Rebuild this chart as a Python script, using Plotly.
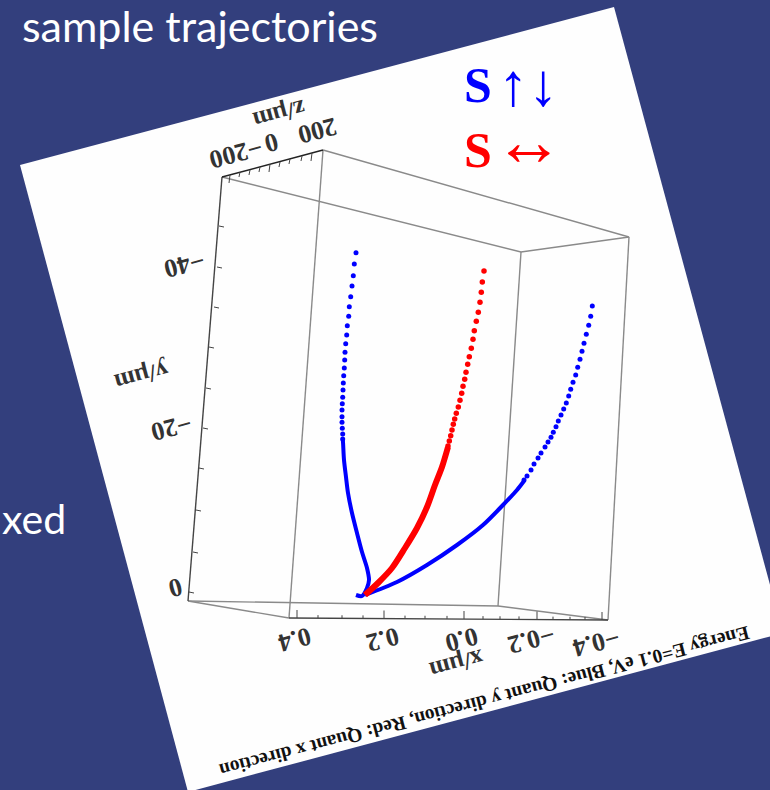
import plotly.graph_objects as go

NAVY = "#333F7D"
SERIF = "Liberation Serif"
SANS = "Lato"

# page (white rotated sheet) corners
page_x = [20, 614, 783, 188, 20]
page_y = [165, 7, 633, 792, 165]

# 3D box edges, each as (xs, ys)
grey_edges = [
    ([323, 629, 521, 222], [150, 237, 252, 177]),
    ([323, 289], [150, 618]),
    ([521, 498], [252, 606]),
    ([629, 608], [237, 620]),
    ([188, 289], [601, 618]),
    ([188, 498, 608], [601, 606, 620]),
]
dark_edges = [
    ([222, 188], [177, 601]),
    ([289, 608], [618, 620]),
]
z_axis_x, z_axis_y = [222, 323], [177, 150]

# ticks: position on picture
z_tick_x = [230, 240, 250, 260, 270, 280, 290, 302, 312]
z_tick_y = [175, 172, 170, 167, 164, 162, 159, 156, 153]
z_tick_len = [8, 5, 5, 5, 8, 5, 5, 5, 8]
y_tick_x = [219, 217, 214, 209, 206, 203, 199, 196, 193, 189]
y_tick_y = [226, 267, 307, 347, 388, 428, 468, 510, 552, 592]
x_tick_x = [297, 318, 342, 363, 384, 405, 425, 447, 464, 483, 500, 519, 537, 553, 570, 585, 602]
x_tick_len = [8, 3, 3, 3, 8, 3, 3, 3, 8, 3, 3, 3, 8, 3, 3, 3, 8]

# trajectories
blue1_dots_x = [356, 354.3, 353.3, 352, 350.7, 349.3, 348.7, 347.3, 346.7, 345.7, 345, 344.7, 344.3, 343.7, 343.3, 343, 342.7, 342.3, 342, 342, 342, 342.3, 342.7, 342.7]
blue1_dots_y = [252.7, 264, 275.7, 286, 296.7, 306.7, 316.3, 325.7, 335, 343.7, 352.3, 360, 368, 375.7, 383, 390, 397.3, 403.7, 410, 416.7, 422.3, 428.3, 434, 439]
blue1_line_x = [342.7, 343, 344, 346, 348, 352, 357, 362, 367, 369, 367, 362, 356]
blue1_line_y = [439, 442, 460, 477, 493, 513, 533, 552, 568, 580, 588, 596, 595]

red_dots_x = [484, 482.3, 481.3, 480, 478.3, 476.3, 474.3, 473, 471.3, 469.3, 467.7, 466, 464.7, 463, 461.7, 460, 458.3, 456.3, 454.7, 453.3, 452, 450.7, 449.3, 448]
red_dots_y = [271, 282, 292.3, 302.3, 312.3, 321.3, 330.7, 339.3, 348.3, 356.7, 364.3, 372.3, 379.3, 386.3, 393.3, 400.3, 407, 413.3, 419, 424.3, 430, 435.7, 441, 446]
red_line_x = [448, 442, 435, 427, 417, 405, 392, 378, 365]
red_line_y = [447, 467, 485, 507, 528, 548, 568, 583, 595]

blue2_dots_x = [592.3, 590.7, 588.7, 586.3, 584, 582, 580, 577.7, 575.7, 573, 570.7, 568.7, 566.3, 563.7, 561, 558.3, 556, 553.3, 551, 548, 545, 541, 538, 534, 531, 527, 524]
blue2_dots_y = [306, 316.3, 325.3, 334.3, 343.3, 351.3, 359.3, 367.3, 375, 382.3, 389.3, 396, 403, 409, 415, 421, 426.7, 432.3, 437.3, 442, 447, 453, 458, 464, 470, 476, 480]
blue2_line_x = [524, 517, 503, 483, 457, 427, 397, 365]
blue2_line_y = [481, 490, 505, 525, 545, 565, 582, 595]

# labels
slide_texts = [("sample trajectories", 20, 25, 43), ("xed", 0, 518, 41)]
tick_labels = [
    ("200", 318, 131), ("0", 272, 143), ("\u2212200", 236, 154),
    ("\u221240", 185, 265), ("\u221220", 172, 428), ("0", 176, 588),
    ("0.4", 295, 640), ("0.2", 383, 640), ("0.0", 462, 640),
    ("\u22120.2", 532, 640), ("\u22120.4", 597, 643),
]
axis_titles = [("z/\u03bcm", 280, 115), ("y/\u03bcm", 142, 377), ("x/\u03bcm", 457, 665)]
caption = ("Energy E=0.1 eV, Blue: Quant y direction, Red: Quant x direction", 485, 702)

fig = go.Figure()
fig.add_trace(go.Scatter(x=page_x, y=page_y, mode="lines", fill="toself", fillcolor="#FEFEFE",
                         line=dict(width=0), hoverinfo="skip"))

for xs, ys in grey_edges:
    fig.add_trace(go.Scatter(x=xs, y=ys, mode="lines", line=dict(color="#8A8A8A", width=1.4)))
for xs, ys in dark_edges:
    fig.add_trace(go.Scatter(x=xs, y=ys, mode="lines", line=dict(color="#444444", width=1.4)))
fig.add_trace(go.Scatter(x=z_axis_x, y=z_axis_y, mode="lines", line=dict(color="#222222", width=1.5)))

tx, ty = [], []
for x, y, l in zip(z_tick_x, z_tick_y, z_tick_len):
    tx += [x, x - 1, None]; ty += [y, y + l, None]
for x, y in zip(y_tick_x, y_tick_y):
    tx += [x, x + 5, None]; ty += [y, y + 1, None]
for i, (x, l) in enumerate(zip(x_tick_x, x_tick_len)):
    base = 618 + 2 * i / (len(x_tick_x) - 1)
    tx += [x, x, None]; ty += [base, base - l, None]
fig.add_trace(go.Scatter(x=tx, y=ty, mode="lines", line=dict(color="#444444", width=1)))

fig.add_trace(go.Scatter(x=blue1_line_x, y=blue1_line_y, mode="lines",
                         line=dict(color="#0000FF", width=4, shape="spline", smoothing=0.8)))
fig.add_trace(go.Scatter(x=blue2_line_x, y=blue2_line_y, mode="lines",
                         line=dict(color="#0000FF", width=4, shape="spline", smoothing=0.8)))
fig.add_trace(go.Scatter(x=red_line_x, y=red_line_y, mode="lines",
                         line=dict(color="#FF0000", width=6, shape="spline", smoothing=0.8)))
fig.add_trace(go.Scatter(x=blue1_dots_x, y=blue1_dots_y, mode="markers", marker=dict(color="#0000FF", size=5)))
fig.add_trace(go.Scatter(x=blue2_dots_x, y=blue2_dots_y, mode="markers", marker=dict(color="#0000FF", size=5)))
fig.add_trace(go.Scatter(x=red_dots_x, y=red_dots_y, mode="markers", marker=dict(color="#FF0000", size=5.5)))

ann = []
for t, x, y, s in slide_texts:
    ann.append(dict(text=t, x=x, y=y, xanchor="left", yanchor="middle", showarrow=False,
                    font=dict(family=SANS, size=s, color="white")))
for t, x, y in tick_labels:
    ann.append(dict(text="<b>%s</b>" % t, x=x, y=y, textangle=165, showarrow=False,
                    font=dict(family=SERIF, size=26, color="#333333")))
for t, x, y in axis_titles:
    ann.append(dict(text="<b>%s</b>" % t, x=x, y=y, textangle=165, showarrow=False,
                    font=dict(family=SERIF, size=25, color="#333333")))
ann.append(dict(text="<b>%s</b>" % caption[0], x=caption[1], y=caption[2], textangle=165.3, showarrow=False,
                font=dict(family=SERIF, size=19.5, color="#111111")))
ann.append(dict(text="<b>S</b>", x=478, y=85, showarrow=False, font=dict(family=SERIF, size=50, color="#0000FF")))
ann.append(dict(text="\u2191\u2193", x=528, y=85, showarrow=False, font=dict(family=SERIF, size=60, color="#0000FF")))
ann.append(dict(text="<b>S</b>", x=478, y=150, showarrow=False, font=dict(family=SERIF, size=50, color="#FF0000")))
ann.append(dict(text="\u2194", x=529, y=141, showarrow=False, font=dict(family=SERIF, size=70, color="#FF0000")))

fig.update_layout(
    width=770, height=790, margin=dict(l=0, r=0, t=0, b=0),
    paper_bgcolor=NAVY, plot_bgcolor=NAVY, showlegend=False, annotations=ann,
    xaxis=dict(range=[0, 770], visible=False, fixedrange=True),
    yaxis=dict(range=[790, 0], visible=False, fixedrange=True),
)
fig.write_html("out.html", config={"displayModeBar": False},
               post_script="document.body.style.margin='0';document.body.style.overflow='hidden';document.body.style.background='%s';" % NAVY)
